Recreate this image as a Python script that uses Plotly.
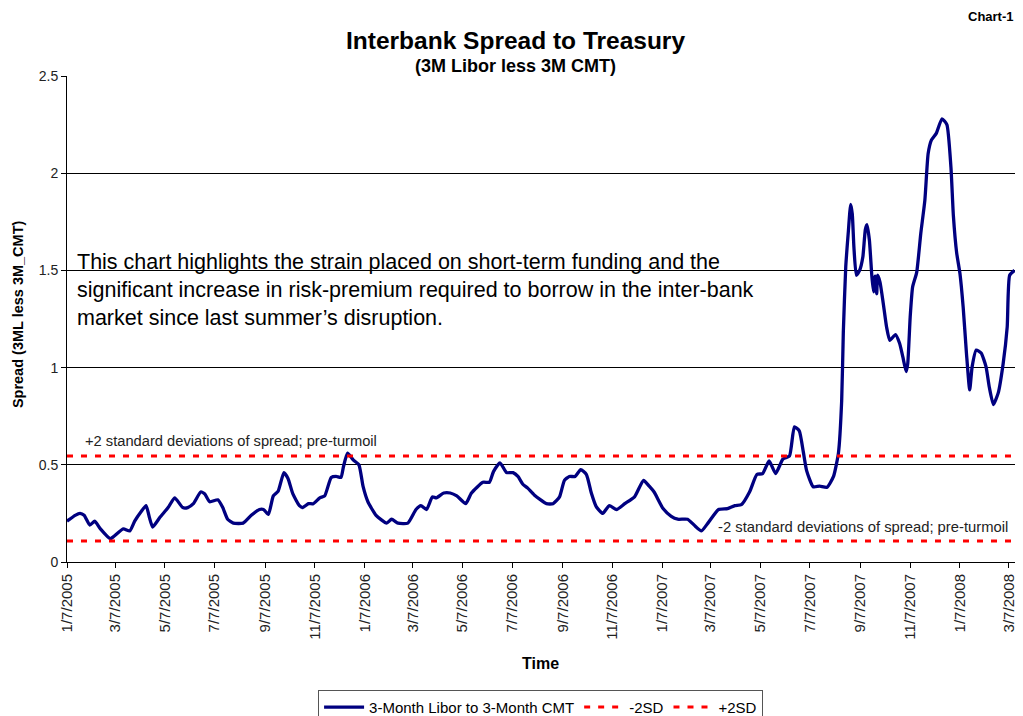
import plotly.graph_objects as go

# ---- data ----
dates = [
    "2005-01-07", "2005-01-17", "2005-01-23", "2005-01-28", "2005-02-04", "2005-02-10", "2005-02-17",
    "2005-03-01", "2005-03-05", "2005-03-17", "2005-03-25", "2005-03-31", "2005-04-08", "2005-04-14",
    "2005-04-18", "2005-04-22", "2005-05-01", "2005-05-11", "2005-05-19", "2005-05-29", "2005-06-04",
    "2005-06-11", "2005-06-20", "2005-06-25", "2005-07-01", "2005-07-11", "2005-07-17", "2005-07-23",
    "2005-07-30", "2005-08-11", "2005-08-21", "2005-08-31", "2005-09-05", "2005-09-11", "2005-09-17",
    "2005-09-23", "2005-09-30", "2005-10-05", "2005-10-11", "2005-10-19", "2005-10-23", "2005-10-30",
    "2005-11-05", "2005-11-13", "2005-11-19", "2005-11-27", "2005-12-03", "2005-12-09", "2005-12-12",
    "2005-12-17", "2005-12-24", "2005-12-31", "2006-01-05", "2006-01-11", "2006-01-21", "2006-02-03",
    "2006-02-09", "2006-02-17", "2006-03-01", "2006-03-11", "2006-03-17", "2006-03-24", "2006-03-31",
    "2006-04-05", "2006-04-14", "2006-04-22", "2006-04-30", "2006-05-11", "2006-05-18", "2006-06-01",
    "2006-06-09", "2006-06-14", "2006-06-22", "2006-06-30", "2006-07-08", "2006-07-14", "2006-07-20",
    "2006-07-26", "2006-08-03", "2006-08-18", "2006-08-26", "2006-09-03", "2006-09-09", "2006-09-15",
    "2006-09-22", "2006-09-29", "2006-10-06", "2006-10-12", "2006-10-18", "2006-10-26", "2006-11-03",
    "2006-11-12", "2006-11-22", "2006-12-04", "2006-12-15", "2006-12-22", "2006-12-28", "2007-01-08",
    "2007-01-18", "2007-01-26", "2007-02-07", "2007-02-15", "2007-02-24", "2007-03-04", "2007-03-17",
    "2007-03-28", "2007-04-06", "2007-04-14", "2007-04-24", "2007-05-03", "2007-05-10", "2007-05-18",
    "2007-05-26", "2007-06-04", "2007-06-12", "2007-06-18", "2007-06-24", "2007-06-29", "2007-07-03",
    "2007-07-11", "2007-07-19", "2007-07-28", "2007-08-05", "2007-08-11", "2007-08-15", "2007-08-17",
    "2007-08-20", "2007-08-23", "2007-08-26", "2007-08-28", "2007-08-30", "2007-09-02", "2007-09-06",
    "2007-09-10", "2007-09-13", "2007-09-15", "2007-09-18", "2007-09-21", "2007-09-23", "2007-09-25",
    "2007-09-27", "2007-09-28", "2007-10-01", "2007-10-05", "2007-10-09", "2007-10-13", "2007-10-20",
    "2007-10-25", "2007-10-29", "2007-11-02", "2007-11-04", "2007-11-07", "2007-11-10", "2007-11-15",
    "2007-11-20", "2007-11-25", "2007-11-29", "2007-12-03", "2007-12-09", "2007-12-16", "2007-12-22",
    "2007-12-27", "2007-12-30", "2008-01-03", "2008-01-07", "2008-01-11", "2008-01-15", "2008-01-19",
    "2008-01-22", "2008-01-27", "2008-02-02", "2008-02-08", "2008-02-12", "2008-02-17", "2008-02-23",
    "2008-02-29", "2008-03-05", "2008-03-08", "2008-03-14",
]
spread = [
    0.21, 0.24, 0.25, 0.24, 0.19, 0.21, 0.17,
    0.12, 0.13, 0.17, 0.16, 0.21, 0.26, 0.29,
    0.23, 0.18, 0.23, 0.28, 0.33, 0.28, 0.28,
    0.30, 0.36, 0.35, 0.31, 0.32, 0.28, 0.22,
    0.20, 0.20, 0.24, 0.27, 0.27, 0.245, 0.34,
    0.365, 0.46, 0.43, 0.35, 0.29, 0.28, 0.30,
    0.30, 0.33, 0.34, 0.435, 0.44, 0.435, 0.49,
    0.56, 0.525, 0.50, 0.39, 0.31, 0.24, 0.20,
    0.22, 0.20, 0.20, 0.27, 0.29, 0.27, 0.335,
    0.33, 0.355, 0.355, 0.34, 0.30, 0.355, 0.41,
    0.41, 0.465, 0.51, 0.46, 0.46, 0.44, 0.40,
    0.38, 0.345, 0.30, 0.30, 0.335, 0.42, 0.44,
    0.44, 0.475, 0.45, 0.355, 0.285, 0.25, 0.29,
    0.27, 0.30, 0.335, 0.42, 0.39, 0.36, 0.275,
    0.235, 0.22, 0.22, 0.19, 0.16, 0.20, 0.27,
    0.275, 0.29, 0.295, 0.36, 0.45, 0.455, 0.52,
    0.455, 0.53, 0.545, 0.695, 0.675, 0.565, 0.47,
    0.387, 0.39, 0.384, 0.44, 0.56, 0.83, 1.18,
    1.52, 1.69, 1.84, 1.79, 1.62, 1.475, 1.50,
    1.57, 1.71, 1.735, 1.655, 1.47, 1.39, 1.47,
    1.38, 1.475, 1.44, 1.33, 1.21, 1.14, 1.17,
    1.125, 1.055, 0.98, 1.02, 1.26, 1.415, 1.49,
    1.69, 1.86, 2.10, 2.17, 2.205, 2.28, 2.25,
    2.03, 1.78, 1.59, 1.485, 1.31, 1.075, 0.885,
    1.005, 1.09, 1.075, 1.005, 0.90, 0.81, 0.87,
    1.02, 1.21, 1.475, 1.50,
]
sd_dates = ["2005-01-07", "2008-03-14"]
minus_2sd = [0.108, 0.108]
plus_2sd = [0.545, 0.545]

tick_dates = ["2005-01-07", "2005-03-07", "2005-05-07", "2005-07-07", "2005-09-07", "2005-11-07",
              "2006-01-07", "2006-03-07", "2006-05-07", "2006-07-07", "2006-09-07", "2006-11-07",
              "2007-01-07", "2007-03-07", "2007-05-07", "2007-07-07", "2007-09-07", "2007-11-07",
              "2008-01-07", "2008-03-07"]
tick_text = ["1/7/2005", "3/7/2005", "5/7/2005", "7/7/2005", "9/7/2005", "11/7/2005",
             "1/7/2006", "3/7/2006", "5/7/2006", "7/7/2006", "9/7/2006", "11/7/2006",
             "1/7/2007", "3/7/2007", "5/7/2007", "7/7/2007", "9/7/2007", "11/7/2007",
             "1/7/2008", "3/7/2008"]

FONT = "Liberation Sans, Arial, sans-serif"

fig = go.Figure()
fig.add_trace(go.Scatter(x=dates, y=spread, mode="lines", name="3-Month Libor to 3-Month CMT",
                         line=dict(color="#000080", width=3.3, shape="spline", smoothing=0.5)))
fig.add_trace(go.Scatter(x=sd_dates, y=minus_2sd, mode="lines", name="-2SD",
                         line=dict(color="#FF0000", width=3, dash="6px,8px")))
fig.add_trace(go.Scatter(x=sd_dates, y=plus_2sd, mode="lines", name="+2SD",
                         line=dict(color="#FF0000", width=3, dash="6px,8px")))

# white box behind the commentary text (hides the gridline as in the original)
fig.add_shape(type="rect", xref="paper", yref="y", x0=0.0, x1=0.755, y0=1.26, y1=1.6,
              fillcolor="white", line=dict(width=0), layer="between")

comment_lines = [
    "This chart highlights the strain placed on short-term funding and the",
    "significant increase in risk-premium required to borrow in the inter-bank",
    "market since last summer\u2019s disruption.",
]
comment_y = [1.544, 1.400, 1.256]
for txt, yy in zip(comment_lines, comment_y):
    fig.add_annotation(text=txt, xref="paper", yref="y", x=0.0085, y=yy, xanchor="left",
                       yanchor="middle", showarrow=False,
                       font=dict(family=FONT, size=21.5, color="#000000"))

fig.add_annotation(text="+2 standard deviations of spread; pre-turmoil", xref="paper", yref="y",
                   x=0.017, y=0.622, xanchor="left", yanchor="middle", showarrow=False,
                   font=dict(family=FONT, size=14.7, color="#222222"))
fig.add_annotation(text="-2 standard deviations of spread; pre-turmoil", xref="paper", yref="y",
                   x=0.683, y=0.18, xanchor="left", yanchor="middle", showarrow=False,
                   font=dict(family=FONT, size=14.8, color="#222222"))

# titles
fig.add_annotation(text="<b>Interbank Spread to Treasury</b>", xref="paper", yref="paper",
                   x=0.4716, y=1.074, xanchor="center", yanchor="middle", showarrow=False,
                   font=dict(family=FONT, size=24.5, color="#000000"))
fig.add_annotation(text="<b>(3M Libor less 3M CMT)</b>", xref="paper", yref="paper",
                   x=0.4716, y=1.0206, xanchor="center", yanchor="middle", showarrow=False,
                   font=dict(family=FONT, size=18, color="#000000"))
fig.add_annotation(text="<b>Chart-1</b>", xref="paper", yref="paper",
                   x=0.999, y=1.122, xanchor="right", yanchor="middle", showarrow=False,
                   font=dict(family=FONT, size=13, color="#000000"))
fig.add_annotation(text="<b>Time</b>", xref="paper", yref="paper",
                   x=0.498, y=-0.208, xanchor="center", yanchor="middle", showarrow=False,
                   font=dict(family=FONT, size=16, color="#000000"))
fig.add_annotation(text="<b>Spread (3ML less 3M_CMT)</b>", xref="paper", yref="paper",
                   x=-0.0516, y=0.51, xanchor="center", yanchor="middle", showarrow=False,
                   textangle=-90, font=dict(family=FONT, size=14.5, color="#000000"))

fig.update_layout(
    width=1015, height=708,
    margin=dict(l=59, r=6, t=68, b=154, autoexpand=False),
    paper_bgcolor="white", plot_bgcolor="white",
    font=dict(family=FONT, size=12, color="#000000"),
    showlegend=True,
    legend=dict(orientation="h", x=0.4985, y=-0.263, xanchor="center", yanchor="top",
                bordercolor="#555555", borderwidth=1, bgcolor="white",
                font=dict(family=FONT, size=15, color="#000000"), itemwidth=40,
                tracegroupgap=0),
)
fig.update_xaxes(type="date", range=["2005-01-07", "2008-03-17"],
                 tickmode="array", tickvals=tick_dates, ticktext=tick_text, tickangle=-90,
                 tickfont=dict(family=FONT, size=15, color="#222222"),
                 showline=True, linecolor="#000000", linewidth=1,
                 ticks="outside", ticklen=5, tickcolor="#000000",
                 showgrid=False, zeroline=False)
fig.update_yaxes(range=[0, 2.5], tickmode="array", tickvals=[0, 0.5, 1, 1.5, 2, 2.5],
                 ticktext=["0", "0.5", "1", "1.5", "2", "2.5"],
                 tickfont=dict(family=FONT, size=14, color="#222222"),
                 showline=True, linecolor="#000000", linewidth=1,
                 ticks="outside", ticklen=5, tickcolor="#000000",
                 showgrid=True, gridcolor="#000000", gridwidth=1, zeroline=False)

fig.write_html("out.html")
